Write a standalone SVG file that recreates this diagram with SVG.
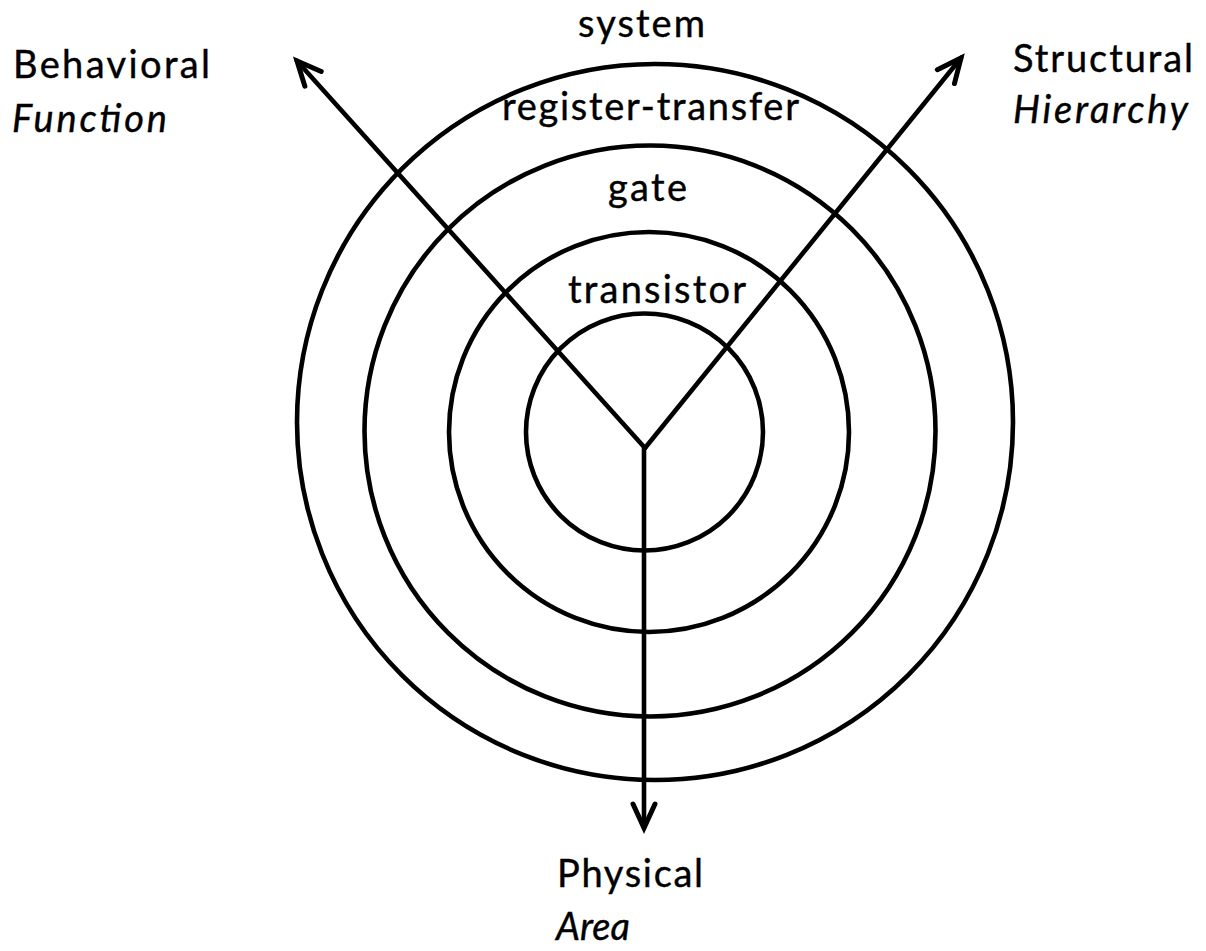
<svg xmlns="http://www.w3.org/2000/svg" width="1206" height="951" viewBox="0 0 1206 951">
<style>
.ring{fill:none;stroke:#000;stroke-width:4.6}
.ax{fill:none;stroke:#000;stroke-width:4.6;stroke-linecap:round;stroke-linejoin:miter}
.t{font-family:Lato,"Open Sans","Liberation Sans",sans-serif;font-size:38px;fill:#000;stroke:#000;stroke-width:0.4}
.i{font-style:italic}
</style>
<defs>
<marker id="arr" markerUnits="userSpaceOnUse" markerWidth="40" markerHeight="40" viewBox="-30 -20 40 40" refX="0" refY="0" orient="auto">
<path d="M-24,-11 L0,0 L-24,11" fill="none" stroke="#000" stroke-width="5" stroke-linecap="round" stroke-linejoin="miter"/>
</marker>
</defs>
<rect width="1206" height="951" fill="#fff"/>
<g id="ring-system"><circle class="ring" cx="655" cy="422" r="358"/><text class="t" x="578" y="37" textLength="127">system</text></g>
<g id="ring-register-transfer"><circle class="ring" cx="650" cy="431" r="285.5"/><text class="t" x="502" y="120" textLength="297">register-transfer</text></g>
<g id="ring-gate"><circle class="ring" cx="649" cy="432" r="200"/><text class="t" x="608" y="201" textLength="79">gate</text></g>
<g id="ring-transistor"><circle class="ring" cx="644.5" cy="432" r="118.5"/><text class="t" x="568" y="303" textLength="178">transistor</text></g>
<g id="connectors">
<line class="ax" x1="645" y1="448" x2="297" y2="61" marker-end="url(#arr)"/>
<line class="ax" x1="645" y1="448" x2="961" y2="58" marker-end="url(#arr)"/>
<line class="ax" x1="644" y1="448" x2="644" y2="828" marker-end="url(#arr)"/>
</g>
<g id="label-behavioral"><text class="t" x="13" y="78" textLength="197">Behavioral</text><text class="t i" x="12" y="132" textLength="155">Function</text></g>
<g id="label-structural"><text class="t" x="1013" y="72" textLength="180">Structural</text><text class="t i" x="1013" y="123" textLength="175">Hierarchy</text></g>
<g id="label-physical"><text class="t" x="557" y="887" textLength="146">Physical</text><text class="t i" x="556" y="940" textLength="74">Area</text></g>
</svg>
